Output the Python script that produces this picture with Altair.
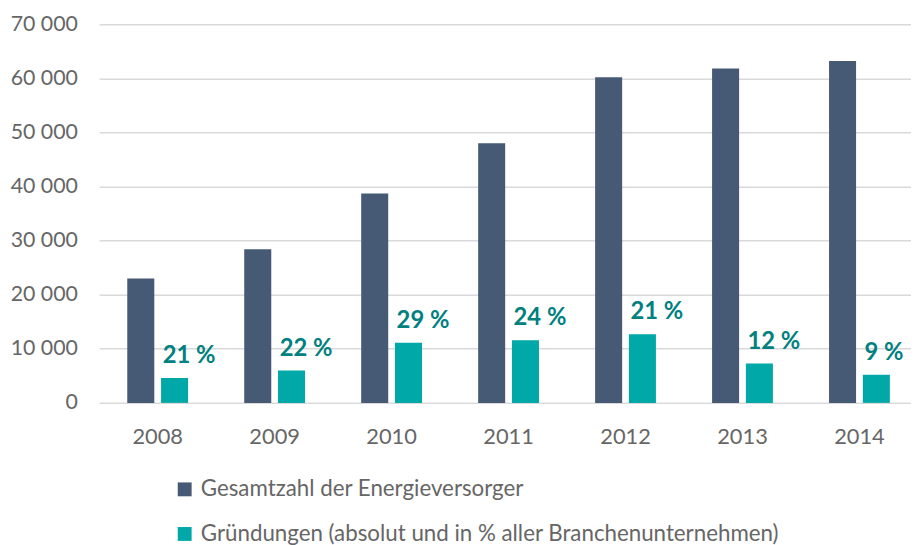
import altair as alt
import pandas as pd

years = ["2008", "2009", "2010", "2011", "2012", "2013", "2014"]
gesamt = [23000, 28400, 38700, 48000, 60200, 61800, 63200]
gruendungen = [4600, 6000, 11100, 11600, 12700, 7300, 5200]
anteil = ["21 %", "22 %", "29 %", "24 %", "21 %", "12 %", "9 %"]
series = ["Gesamtzahl der Energieversorger",
          "Gründungen (absolut und in % aller Branchenunternehmen)"]
colors = ["#465A75", "#00A9A8"]
y_ticks = [0, 10000, 20000, 30000, 40000, 50000, 60000, 70000]

rows = []
for i, yr in enumerate(years):
    rows.append({"Jahr": yr, "Reihe": series[0], "Wert": gesamt[i], "Label": ""})
    rows.append({"Jahr": yr, "Reihe": series[1], "Wert": gruendungen[i], "Label": anteil[i]})
df = pd.DataFrame(rows)

FONT = "Lato"
GREY = "#666666"

x_enc = alt.X(
    "Jahr:N", title=None, sort=years,
    scale=alt.Scale(range=[0, 826], paddingInner=0.48, paddingOuter=0.24),
    axis=alt.Axis(labelAngle=0, ticks=False, labelPadding=24, labelFontSize=22,
                  labelColor=GREY, labelFont=FONT, domainColor="#d9d9d9",
                  domainWidth=1.5),
)
xoff_enc = alt.XOffset("Reihe:N", sort=series,
                       scale=alt.Scale(domain=series, paddingInner=0.2, paddingOuter=0))
y_enc = alt.Y(
    "Wert:Q", title=None,
    scale=alt.Scale(domain=[0, 70000], nice=False),
    axis=alt.Axis(values=y_ticks, grid=True, gridColor="#d9d9d9", gridWidth=1.5,
                  domain=False, ticks=False, labelPadding=22, labelFontSize=21.5,
                  labelColor=GREY, labelFont=FONT,
                  labelExpr="datum.value == 0 ? '0' : format(datum.value / 1000, 'd') + ' 000'"),
)

bars = alt.Chart(df).mark_bar().encode(
    x=x_enc,
    xOffset=xoff_enc,
    y=y_enc,
    color=alt.Color(
        "Reihe:N", sort=series,
        scale=alt.Scale(domain=series, range=colors),
        legend=alt.Legend(title=None, orient="none", legendX=75, legendY=458,
                          direction="vertical", symbolType="square", symbolSize=196,
                          symbolStrokeWidth=0, labelFontSize=22.5, labelFont=FONT,
                          labelColor=GREY, rowPadding=22, labelOffset=5,
                          labelLimit=800),
    ),
)

labels = alt.Chart(df).transform_filter(
    alt.datum.Reihe == series[1]
).mark_text(
    align="left", baseline="alphabetic", dx=-12, dy=-15,
    fontSize=24, fontWeight="bold", font=FONT, color="#00807F",
).encode(
    x=x_enc,
    xOffset=xoff_enc,
    y=y_enc,
    text="Label:N",
)

chart = alt.layer(bars, labels).properties(
    width=819, height=382,
    autosize=alt.AutoSizeParams(type="none"),
    padding={"left": 92, "top": 14, "right": 0, "bottom": 141},
).configure(font=FONT).configure_view(stroke=None)

chart.save("out.html", embed_options={"renderer": "svg", "actions": False})
